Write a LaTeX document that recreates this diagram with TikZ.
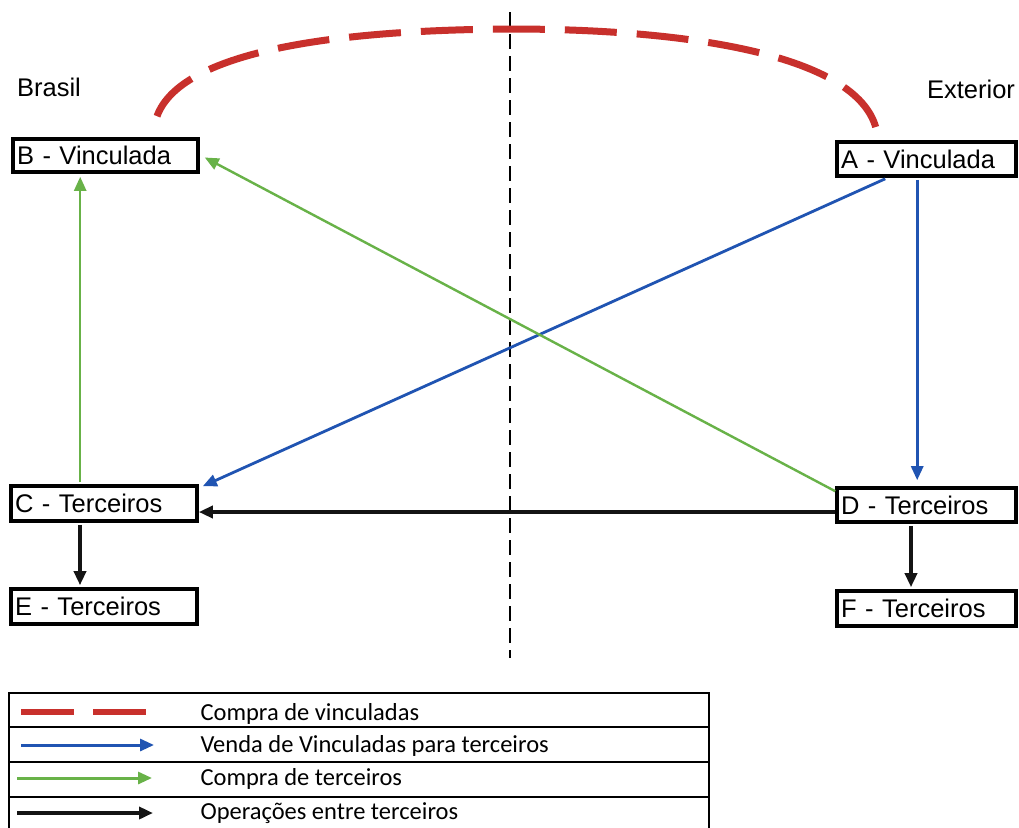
\documentclass[tikz,border=0pt]{standalone}
\usepackage{fontspec}
\setmainfont{Liberation Sans}
\newfontfamily\legendfont{Carlito}
\usetikzlibrary{arrows.meta,calc}

\definecolor{linkred}{RGB}{200,48,44}
\definecolor{sellblue}{RGB}{32,84,178}
\definecolor{buygreen}{RGB}{104,178,72}
\definecolor{opsblack}{RGB}{20,20,20}

\tikzset{
  entity/.style={draw=black, line width=3.6pt, rectangle, inner xsep=4pt, inner ysep=0pt,
    font=\fontsize{25.5}{28}\selectfont, align=left},
  region/.style={font=\fontsize{25.5}{28}\selectfont},
  tip/.style={-{Triangle[length=14pt,width=12pt]}},
  buylink/.style={draw=linkred, line width=7pt, dash pattern=on 52pt off 20pt},
  sellflow/.style={draw=sellblue, line width=2.8pt, tip},
  thirdbuy/.style={draw=buygreen, line width=2.4pt, tip},
  thirdops/.style={draw=opsblack, line width=3.4pt, tip},
  border/.style={draw=black, line width=1.6pt, dash pattern=on 15pt off 7pt},
  legendtext/.style={anchor=west, font=\legendfont\fontsize{24.5}{26}\selectfont},
}

\begin{document}
\begin{tikzpicture}[x=1pt,y=-1pt]
  \useasboundingbox (0,0) rectangle (1019,827);
  \fill[white] (0,0) rectangle (1019,827);

  % country border
  \coordinate (bordertop) at (510,12);
  \coordinate (borderbot) at (510,658);
  \draw[border] (bordertop) -- (borderbot);

  % regions
  \node[region] (brasil) at (49,87) {Brasil};
  \node[region] (exterior) at (971,89) {Exterior};

  % entities
  \node[entity, minimum width=185pt, minimum height=33pt, text width=177pt] (B) at (105.5,155.5) {B - Vinculada};
  \node[entity, minimum width=179pt, minimum height=34pt, text width=171pt] (A) at (926.5,159) {A - Vinculada};
  \node[entity, minimum width=186pt, minimum height=35pt, text width=178pt] (C) at (104,503.5) {C - Terceiros};
  \node[entity, minimum width=186pt, minimum height=35pt, text width=178pt] (E) at (104,606.5) {E - Terceiros};
  \node[entity, minimum width=179pt, minimum height=34pt, text width=171pt] (D) at (926.5,505) {D - Terceiros};
  \node[entity, minimum width=179pt, minimum height=35pt, text width=171pt] (F) at (926.5,608.5) {F - Terceiros};

  % purchases between related parties
  \draw[buylink, line cap=butt]
    ($(B.north)+(51.5,-21)$) .. controls ($(B.north)+(75,-85)$) and (330,30) .. (510,29)
    .. controls (690,29) and ($(A.north)+(-70,-85)$) .. ($(A.north)+(-50.5,-12)$);

  % sales from related parties to third parties
  \draw[sellflow] ($(A.south west)+(50,1)$) -- ($(C.north east)+(4,2)$);
  \draw[sellflow, shorten >=6pt] ($(A.south west)+(82,2)$) -- ($(D.north west)+(82,0)$);

  % purchases from third parties
  \draw[thirdbuy, shorten >=3pt] ($(C.north west)+(71,-2)$) -- ($(B.south west)+(69,0)$);
  \draw[thirdbuy] ($(D.north west)+(0,5)$) -- ($(B.east)+(5,2)$);

  % operations between third parties
  \coordinate (dout) at ($(D.west)+(0,7)$);
  \draw[thirdops] (dout) -- (dout -| C.east);
  \draw[thirdops] ($(C.south)+(-24,2)$) -- ($(E.north)+(-24,-2)$);
  \draw[thirdops] ($(D.south)+(-15.5,2)$) -- ($(F.north)+(-15.5,-2)$);

  % legend table
  \draw[line width=1.8pt] (9,840) -- (9,693) -- (709,693) -- (709,840);
  \foreach \yy in {727,762,797} \draw[line width=1.8pt] (9,\yy) -- (709,\yy);

  \coordinate (k1a) at (21,712);  \coordinate (k1b) at (147,712);
  \coordinate (k2a) at (21,745);  \coordinate (k2b) at (154,745);
  \coordinate (k3a) at (17,778);  \coordinate (k3b) at (152,778);
  \coordinate (k4a) at (17,813);  \coordinate (k4b) at (153,813);
  \draw[draw=linkred, line width=6pt, dash pattern=on 53pt off 19pt] (k1a) -- (k1b);
  \draw[draw=sellblue, line width=3pt, tip] (k2a) -- (k2b);
  \draw[draw=buygreen, line width=3pt, tip] (k3a) -- (k3b);
  \draw[draw=opsblack, line width=3.6pt, tip] (k4a) -- (k4b);

  \node[legendtext] (l1) at (197,714) {Compra de vinculadas};
  \node[legendtext] (l2) at (197,746) {Venda de Vinculadas para terceiros};
  \node[legendtext] (l3) at (197,779) {Compra de terceiros};
  \node[legendtext] (l4) at (197,813) {Operações entre terceiros};
\end{tikzpicture}
\end{document}
